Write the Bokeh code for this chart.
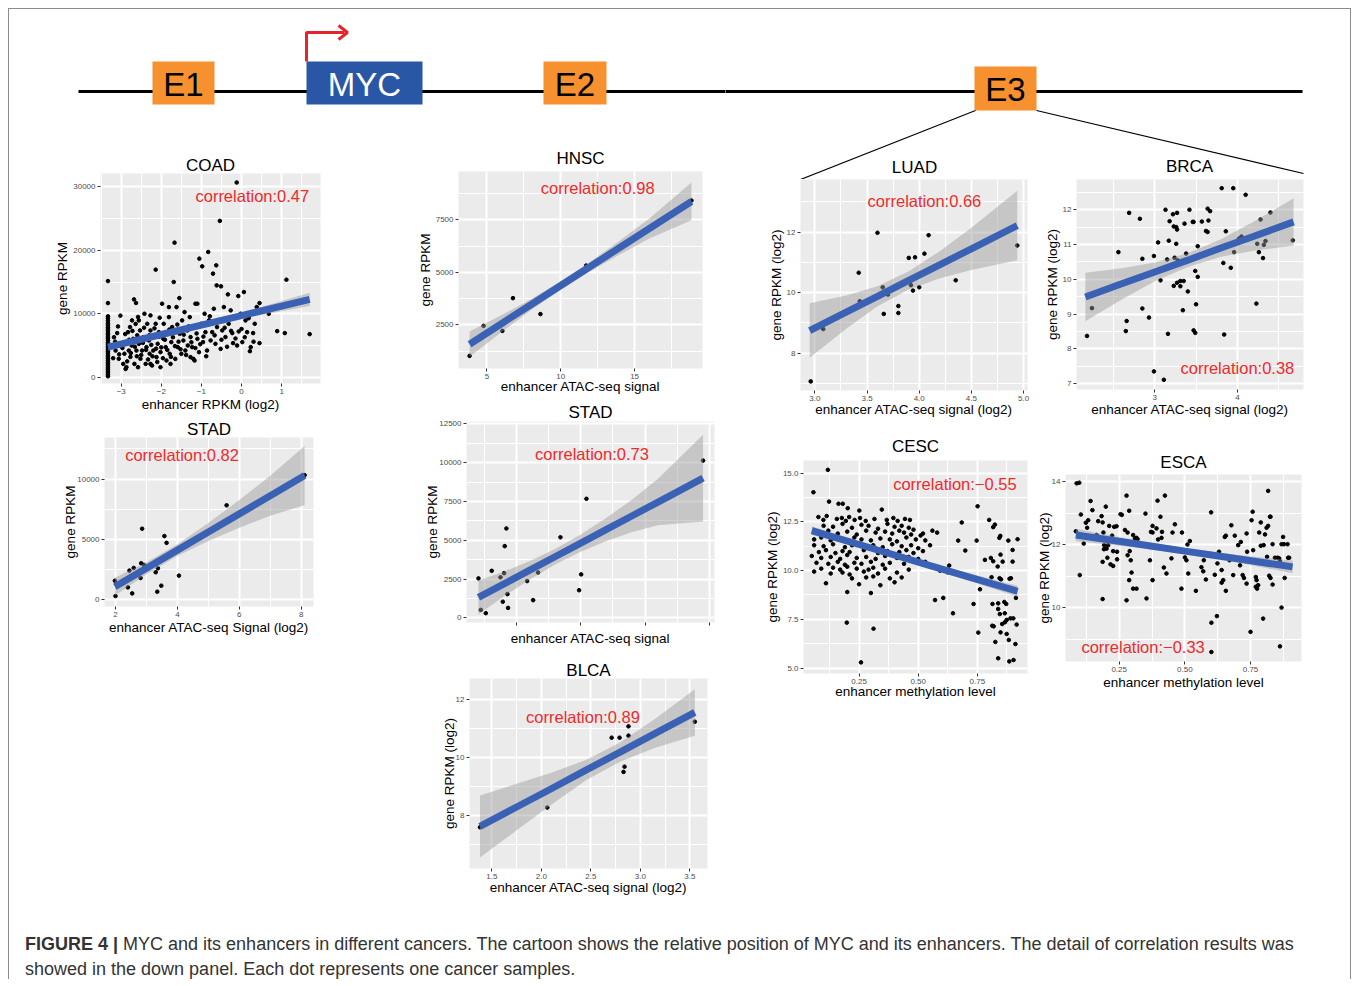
from bokeh.plotting import figure
from bokeh.models import Range1d, FixedTicker, Div
from bokeh.layouts import row, column
from bokeh.embed import file_html
from bokeh.resources import INLINE
from bokeh.core.properties import value

FONT = "Liberation Sans"
PANEL_BG = "#EBEBEB"
LINE_BLUE = "#3A61B3"
RED = "#EE2A2A"
ORANGE = "#F7902F"
MYC_BLUE = "#2A56A6"

# ======================= DATA =======================
# --- COAD: enhancer RPKM (log2) vs gene RPKM
coad_points = [
    (-3.33, 150), (-3.33, 420), (-3.33, 700), (-3.33, 980), (-3.33, 1250), (-3.33, 1500), (-3.33, 1800),
    (-3.33, 2100), (-3.33, 2350), (-3.33, 2650), (-3.33, 2950), (-3.33, 3200), (-3.33, 3450), (-3.33, 3800),
    (-3.33, 4050), (-3.33, 4300), (-3.33, 4650), (-3.33, 4900), (-3.33, 5200), (-3.33, 5450), (-3.33, 5800),
    (-3.33, 6100), (-3.33, 6350), (-3.33, 6700), (-3.33, 6950), (-3.33, 7300), (-3.33, 7600), (-3.33, 7850),
    (-3.33, 8200), (-3.33, 8500), (-3.33, 8900), (-3.33, 9300), (-3.33, 9600), (-3.33, 11680), (-3.33, 15150),
    (-3.18, 6300), (-3.14, 4200), (-3.10, 6950), (-3.06, 2900), (-3.02, 9700), (-3.0, 5260), (-2.95, 2100),
    (-2.92, 3700), (-2.89, 1300), (-2.87, 5500), (-2.83, 7100), (-2.81, 4200), (-2.78, 7900), (-2.77, 3200),
    (-2.74, 5000), (-2.70, 6050), (-2.68, 12260), (-2.67, 2100), (-2.64, 8400), (-2.62, 4200), (-2.60, 6600),
    (-2.63, 11700), (-2.58, 9500), (-2.56, 5260), (-2.53, 7370), (-2.52, 2900), (-2.48, 4200), (-2.45, 6300),
    (-2.42, 10000), (-2.39, 2100), (-2.37, 4740), (-2.35, 8420), (-2.31, 5800), (-2.29, 3700), (-2.27, 7370),
    (-2.23, 1840), (-2.20, 4200), (-2.19, 6300), (-2.14, 8420), (-2.14, 16950), (-2.12, 3160), (-2.09, 5260),
    (-2.06, 7100), (-2.04, 9370), (-2.02, 3950), (-1.98, 11580), (-1.95, 6050), (-1.94, 8420), (-1.89, 4740),
    (-1.87, 2630), (-1.84, 6840), (-1.81, 9470), (-1.79, 3680), (-1.75, 5530), (-1.73, 7900), (-1.69, 15000),
    (-1.67, 21200), (-1.65, 2890), (-1.62, 11050), (-1.59, 4740), (-1.55, 12470), (-1.54, 6840), (-1.50, 3680),
    (-1.48, 8950), (-1.45, 5790), (-1.42, 10260), (-1.40, 4210), (-1.35, 7370), (-1.34, 5000), (-1.29, 9470),
    (-1.27, 6320), (-1.23, 4740), (-1.20, 2890), (-1.19, 7900), (-1.15, 11580), (-1.10, 11580), (-1.10, 6050),
    (-1.06, 3950), (-1.05, 18680), (-1.0, 8420), (-0.98, 17470), (-0.96, 5530), (-0.92, 10000), (-0.90, 7100),
    (-0.86, 4210), (-0.83, 19740), (-0.81, 8950), (-0.77, 5790), (-0.73, 7100), (-0.71, 16320), (-0.69, 10790),
    (-0.65, 5260), (-0.63, 17630), (-0.62, 14470), (-0.61, 7900), (-0.54, 24630), (-0.52, 4470), (-0.51, 14320),
    (-0.48, 7370), (-0.44, 11050), (-0.40, 6320), (-0.34, 13050), (-0.32, 8420), (-0.27, 10530), (-0.23, 6950),
    (-0.21, 5370), (-0.17, 9470), (-0.12, 30680), (-0.11, 5000), (-0.08, 12790), (-0.07, 7210), (-0.02, 10000),
    (0.02, 5530), (0.06, 13420), (0.10, 8950), (0.14, 7100), (0.21, 4100), (0.23, 4740), (0.29, 6950),
    (0.33, 8420), (0.38, 11050), (0.45, 11680), (0.45, 5370), (0.68, 10000), (0.89, 7260), (1.08, 6950),
    (1.12, 15370), (1.70, 6790), (-2.87, 1580), (-2.58, 1580), (-2.27, 2100), (-2.02, 1580), (-1.77, 2100),
    (-1.27, 3160), (-1.17, 2630), (-2.56, 8950), (-2.73, 8950), (-2.27, 9740), (-1.81, 11050),
    (-3.2, 3000), (-3.15, 5600), (-3.08, 8000), (-3.05, 3600), (-2.97, 4600), (-2.9, 6800), (-2.85, 2500),
    (-2.8, 5900), (-2.76, 3800), (-2.72, 7300), (-2.66, 4800), (-2.61, 3300), (-2.55, 6000), (-2.5, 3500),
    (-2.46, 5400), (-2.43, 7800), (-2.38, 4300), (-2.33, 2800), (-2.3, 6600), (-2.25, 5100), (-2.22, 3300),
    (-2.17, 7700), (-2.13, 4500), (-2.1, 2400), (-2.05, 6400), (-2.0, 4700), (-1.96, 3000), (-1.91, 5900),
    (-1.85, 4300), (-1.8, 7500), (-1.76, 3200), (-1.71, 6300), (-1.66, 4900), (-1.6, 8300), (-1.57, 5600),
    (-1.52, 4400), (-1.44, 6700), (-1.38, 3500), (-1.32, 8000), (-1.25, 5500), (-1.15, 4600), (-1.12, 6900),
    (-1.03, 5200), (-0.95, 6400), (-0.88, 3300), (-0.79, 9600), (-0.67, 6600), (-0.58, 9000), (-0.5, 5900),
    (-0.42, 7800), (-0.36, 4800), (-0.26, 7300), (-0.15, 6100), (0.0, 7600), (0.08, 6300), (0.18, 9300), (0.3, 5600),
]
coad_fit_x = [-3.33, -2, -1, 0, 1, 1.7]
coad_fit_y = [4740, 6728, 8223, 9718, 11213, 12260]
coad_lo = [4190, 6428, 7943, 9268, 10413, 11210]
coad_hi = [5290, 7028, 8503, 10168, 12013, 13310]

# --- STAD (left): ATAC-seq signal (log2) vs gene RPKM
stadl_x = [8.11, 5.59, 2.86, 3.58, 3.65, 2.83, 2.92, 2.59, 2.45, 3.37, 3.30, 2.81, 4.05, 1.98, 2.40, 3.48, 3.35, 2.54, 2.0]
stadl_y = [10330, 7830, 5890, 5280, 4720, 3030, 2890, 2640, 2420, 2610, 2280, 1810, 2000, 1580, 1030, 1170, 670, 530, 310]
stadl_fit_x = [1.98, 3, 4, 5, 6, 7, 8.11]
stadl_fit_y = [1080, 2613, 4116, 5619, 7122, 8625, 10293]
stadl_lo = [330, 2113, 3636, 4869, 5972, 6975, 7843]
stadl_hi = [1830, 3113, 4596, 6369, 8272, 10275, 12743]

# --- HNSC
hnsc_x = [3.82, 4.77, 6.04, 6.76, 8.62, 11.72, 18.85]
hnsc_y = [1020, 2450, 2210, 3770, 3010, 5320, 8420]
hnsc_fit_x = [3.82, 6, 8, 10, 12, 14, 16, 18.85]
hnsc_fit_y = [1577, 2563, 3467, 4372, 5276, 6181, 7085, 8374]
hnsc_lo = [977, 2163, 3207, 4172, 5046, 5851, 6605, 7474]
hnsc_hi = [2177, 2963, 3727, 4572, 5506, 6511, 7565, 9274]

# --- STAD (middle)
stadm_x = [19.5, 10.44, 4.22, 4.09, 8.42, 2.05, 3.08, 4.04, 3.76, 6.68, 5.83, 10.03, 9.87, 4.30, 3.94, 6.30, 4.35, 2.23, 2.62]
stadm_y = [10130, 7670, 5760, 4620, 5190, 2540, 3030, 2880, 2610, 2920, 2370, 2800, 1780, 1530, 1040, 1140, 640, 510, 300]
stadm_fit_x = [2.05, 4, 6, 8, 10, 12, 14, 16, 19.5]
stadm_fit_y = [1314, 2173, 3054, 3935, 4816, 5697, 6578, 7459, 9001]
stadm_lo = [214, 1373, 2454, 3435, 4266, 4947, 5528, 5959, 6201]
stadm_hi = [2414, 2973, 3654, 4435, 5366, 6447, 7628, 8959, 11801]

# --- BLCA
blca_x = [1.38, 2.06, 2.71, 2.79, 2.88, 2.88, 2.84, 2.83, 3.55]
blca_y = [7.58, 8.26, 10.67, 10.67, 10.74, 11.06, 9.67, 9.49, 11.22]
blca_fit_x = [1.38, 1.75, 2.1, 2.45, 2.8, 3.15, 3.55]
blca_fit_y = [7.61, 8.28, 8.91, 9.55, 10.18, 10.82, 11.54]
blca_lo = [6.54, 7.48, 8.36, 9.20, 9.85, 10.32, 10.74]
blca_hi = [8.68, 9.08, 9.46, 9.90, 10.51, 11.32, 12.34]

# --- LUAD
luad_x = [2.96, 3.08, 3.43, 3.42, 3.60, 3.65, 3.70, 3.66, 3.80, 3.80, 3.90, 3.96, 3.92, 3.94, 4.00, 4.05, 4.09, 4.35, 4.94]
luad_y = [7.07, 8.80, 9.72, 10.66, 11.98, 10.18, 9.94, 9.30, 9.56, 9.33, 11.15, 11.17, 10.25, 10.07, 10.18, 11.29, 11.90, 10.41, 11.56]
luad_fit_x = [2.95, 3.3, 3.6, 3.9, 4.2, 4.5, 4.94]
luad_fit_y = [8.75, 9.36, 9.88, 10.41, 10.93, 11.45, 12.22]
luad_lo = [7.85, 8.81, 9.55, 10.11, 10.48, 10.75, 11.07]
luad_hi = [9.65, 9.91, 10.21, 10.71, 11.38, 12.15, 13.37]

# --- BRCA
brca_points = [
    (2.18, 8.37), (2.24, 9.17), (2.56, 10.78), (2.69, 11.91), (2.82, 11.74), (2.85, 10.59), (2.85, 9.16),
    (2.66, 8.80), (2.65, 8.51), (2.93, 8.90), (2.99, 10.67), (2.99, 7.35), (3.04, 11.06), (3.07, 9.97),
    (3.13, 12.00), (3.11, 7.11), (3.16, 8.43), (3.17, 11.11), (3.18, 11.67), (3.15, 10.57), (3.22, 11.87),
    (3.23, 11.52), (3.24, 10.62), (3.23, 9.81), (3.26, 11.50), (3.27, 11.43), (3.26, 11.02), (3.27, 11.91),
    (3.27, 9.90), (3.28, 10.54), (3.31, 9.80), (3.31, 9.95), (3.35, 9.95), (3.34, 9.11), (3.36, 11.60),
    (3.38, 10.74), (3.40, 9.65), (3.42, 12.00), (3.46, 11.65), (3.47, 11.65), (3.49, 10.24), (3.50, 9.28),
    (3.52, 10.07), (3.52, 10.95), (3.47, 8.53), (3.49, 8.46), (3.57, 11.66), (3.62, 11.39), (3.64, 11.36),
    (3.64, 12.03), (3.65, 11.69), (3.67, 11.96), (3.81, 12.62), (3.83, 10.47), (3.84, 8.41), (3.86, 11.38),
    (3.92, 10.33), (3.95, 12.62), (3.96, 10.78), (4.02, 11.17), (4.05, 11.23), (4.10, 12.43), (4.23, 9.30),
    (4.24, 11.02), (4.26, 10.78), (4.28, 11.72), (4.31, 10.61), (4.32, 10.99), (4.34, 11.10), (4.40, 11.92),
    (4.67, 11.12),
]
brca_fit_x = [2.16, 2.6, 3.0, 3.4, 3.8, 4.2, 4.68]
brca_fit_y = [9.49, 9.87, 10.21, 10.55, 10.90, 11.24, 11.65]
brca_lo = [8.79, 9.42, 9.94, 10.35, 10.65, 10.82, 10.97]
brca_hi = [10.19, 10.32, 10.48, 10.75, 11.15, 11.66, 12.33]

# --- CESC: methylation vs gene RPKM (log2)
cesc_x = [0.078, 0.099, 0.113, 0.156, 0.177, 0.194, 0.208, 0.231, 0.254, 0.278, 0.315, 0.367, 0.395, 0.413, 0.444, 0.465,
          0.10, 0.14, 0.18, 0.22, 0.26, 0.29, 0.33, 0.37, 0.40, 0.43, 0.46, 0.48,
          0.07, 0.12, 0.16, 0.20, 0.24, 0.28, 0.32, 0.36, 0.39, 0.42, 0.44, 0.47, 0.52, 0.56, 0.58,
          0.06, 0.09, 0.13, 0.17, 0.21, 0.23, 0.26, 0.30, 0.34, 0.38, 0.41, 0.45, 0.49, 0.51, 0.53,
          0.06, 0.10, 0.14, 0.19, 0.22, 0.25, 0.28, 0.31, 0.35, 0.39, 0.43, 0.47, 0.50, 0.55,
          0.08, 0.11, 0.15, 0.18, 0.21, 0.27, 0.33, 0.37, 0.42, 0.45, 0.48, 0.52,
          0.05, 0.09, 0.13, 0.17, 0.20, 0.24, 0.28, 0.32, 0.36, 0.41, 0.46, 0.50,
          0.07, 0.12, 0.16, 0.19, 0.23, 0.26, 0.30, 0.35, 0.38, 0.44, 0.53,
          0.09, 0.14, 0.17, 0.20, 0.24, 0.29, 0.31, 0.36, 0.46,
          0.06, 0.13, 0.18, 0.21, 0.27, 0.33, 0.41,
          0.22, 0.28, 0.31, 0.38, 0.43,
          0.11, 0.25, 0.34, 0.40,
          0.20, 0.30,
          0.057, 0.118, 0.123, 0.163, 0.181, 0.202, 0.251, 0.346, 0.198, 0.311, 0.258, 0.751, 0.684, 0.782,
          0.571, 0.606, 0.647, 0.734, 0.754, 0.761, 0.669, 0.747, 0.699, 0.631, 0.624, 0.592,
          0.800, 0.817, 0.824, 0.847, 0.843, 0.881, 0.920, 0.899, 0.807, 0.817, 0.836, 0.848, 0.857, 0.899,
          0.844, 0.850, 0.892, 0.886, 0.810, 0.814, 0.838, 0.864, 0.872, 0.913, 0.838, 0.845, 0.866, 0.890,
          0.902, 0.874, 0.867, 0.855, 0.916, 0.813, 0.819, 0.848, 0.874, 0.826, 0.883, 0.911, 0.838, 0.885, 0.903]
cesc_y = [12.75, 12.6, 12.8, 12.65, 12.7, 12.55, 12.75, 12.6, 12.7, 12.55, 12.65, 12.6, 12.7, 12.55, 12.65, 12.6,
          12.3, 12.25, 12.4, 12.2, 12.35, 12.3, 12.15, 12.4, 12.25, 12.3, 12.2, 12.1,
          11.95, 12.05, 11.9, 12.0, 11.85, 12.05, 11.95, 12.0, 11.9, 12.05, 11.95, 11.85, 11.9, 12.05, 11.95,
          11.6, 11.7, 11.55, 11.65, 11.5, 11.7, 11.6, 11.55, 11.65, 11.6, 11.5, 11.7, 11.6, 11.8, 11.55,
          11.3, 11.25, 11.35, 11.2, 11.3, 11.4, 11.25, 11.3, 11.2, 11.35, 11.25, 11.3, 11.15, 11.3,
          10.95, 11.05, 10.9, 11.0, 10.95, 11.05, 10.9, 11.0, 10.95, 11.05, 10.9, 11.0,
          10.75, 10.65, 10.7, 10.6, 10.8, 10.65, 10.7, 10.6, 10.75, 10.65, 10.7, 10.6,
          10.4, 10.35, 10.45, 10.3, 10.4, 10.35, 10.45, 10.3, 10.4, 10.35, 10.45,
          10.1, 10.15, 10.05, 10.2, 10.1, 10.05, 10.15, 10.1, 10.05,
          9.95, 9.85, 9.9, 9.8, 9.95, 9.85, 9.9,
          9.6, 9.65, 9.7, 9.6, 9.65,
          9.35, 9.3, 9.25, 9.4,
          8.9, 8.85,
          14.02, 15.17, 13.54, 13.43, 13.43, 13.20, 13.08, 13.13, 7.33, 7.02, 5.29, 13.30, 12.47, 10.55,
          8.49, 8.60, 7.81, 8.29, 6.82, 9.04, 11.54, 11.54, 11.03, 10.26, 9.91, 10.0,
          12.60, 12.23, 12.36, 11.78, 11.68, 11.54, 11.61, 11.06, 10.65, 10.48, 10.21, 10.82, 10.46, 10.46,
          9.61, 9.55, 9.61, 9.58, 9.66, 8.29, 8.32, 8.39, 8.29, 8.60, 8.03, 7.77, 7.81, 7.55,
          7.55, 7.47, 7.35, 7.26, 7.23, 7.17, 7.14, 6.83, 6.75, 6.34, 6.44, 6.23, 5.50, 5.34, 5.41]
cesc_fit_x = [0.05, 0.3, 0.55, 0.92]
cesc_fit_y = [12.05, 11.16, 10.26, 8.94]
cesc_lo = [11.83, 11.04, 10.14, 8.66]
cesc_hi = [12.27, 11.28, 10.38, 9.22]

# --- ESCA
esca_points = [
    (0.088, 13.95), (0.098, 13.97), (0.141, 13.39), (0.104, 12.96), (0.199, 13.21), (0.278, 13.56), (0.288, 13.08),
    (0.396, 13.40), (0.424, 13.56), (0.350, 12.99), (0.600, 13.03), (0.758, 13.05), (0.085, 12.43), (0.100, 11.04),
    (0.115, 12.04), (0.123, 12.70), (0.128, 12.54), (0.132, 12.78), (0.148, 13.10), (0.164, 12.31), (0.170, 12.75),
    (0.183, 12.91), (0.187, 12.71), (0.190, 12.39), (0.192, 11.86), (0.193, 11.99), (0.187, 11.46), (0.187, 10.28),
    (0.202, 11.88), (0.205, 11.59), (0.208, 11.99), (0.212, 12.60), (0.217, 11.38), (0.227, 11.33), (0.223, 12.29),
    (0.231, 12.57), (0.240, 12.59), (0.242, 11.54), (0.227, 11.80), (0.242, 11.78), (0.255, 12.97), (0.260, 12.95),
    (0.272, 12.47), (0.282, 12.39), (0.278, 10.24), (0.288, 10.88), (0.282, 11.67), (0.290, 11.80), (0.294, 11.51),
    (0.297, 11.12), (0.303, 12.31), (0.316, 12.22), (0.310, 12.20), (0.303, 10.61), (0.316, 10.61), (0.320, 12.18),
    (0.354, 10.30), (0.367, 11.51), (0.371, 12.41), (0.377, 12.39), (0.377, 12.60), (0.377, 10.88), (0.392, 12.52),
    (0.398, 12.17), (0.407, 12.89), (0.411, 12.22), (0.413, 12.41), (0.420, 11.28), (0.430, 11.09), (0.449, 11.57),
    (0.453, 12.39), (0.462, 12.65), (0.489, 12.39), (0.487, 10.61), (0.500, 11.60), (0.506, 11.51), (0.510, 12.01),
    (0.513, 11.09), (0.519, 12.12), (0.542, 10.54), (0.563, 11.29), (0.570, 11.16), (0.572, 11.51), (0.580, 10.90),
    (0.601, 9.53), (0.601, 8.60), (0.614, 11.05), (0.622, 9.74), (0.624, 11.41), (0.630, 11.78), (0.640, 10.80),
    (0.640, 11.20), (0.646, 10.88), (0.652, 12.25), (0.656, 12.29), (0.656, 10.54), (0.670, 11.51), (0.677, 12.62),
    (0.684, 11.04), (0.690, 12.29), (0.703, 11.99), (0.710, 11.35), (0.713, 12.09), (0.720, 11.04), (0.725, 10.95),
    (0.735, 10.77), (0.735, 12.36), (0.737, 11.78), (0.750, 9.24), (0.754, 12.78), (0.760, 11.83), (0.770, 10.98),
    (0.773, 10.88), (0.770, 10.67), (0.775, 10.61), (0.779, 10.72), (0.783, 12.39), (0.789, 11.97), (0.789, 12.71),
    (0.798, 9.66), (0.800, 11.99), (0.805, 12.33), (0.811, 12.54), (0.817, 12.60), (0.824, 12.89), (0.826, 12.89),
    (0.817, 13.71), (0.813, 11.62), (0.821, 11.02), (0.826, 10.95), (0.834, 10.74), (0.834, 12.02), (0.843, 11.59),
    (0.853, 11.59), (0.859, 11.57), (0.862, 11.48), (0.868, 10.01), (0.862, 8.78), (0.868, 12.02), (0.874, 12.25),
    (0.877, 12.02), (0.880, 10.95), (0.891, 12.02), (0.893, 11.59), (0.897, 11.59),
]
esca_fit_x = [0.085, 0.3, 0.5, 0.7, 0.91]
esca_fit_y = [12.31, 12.05, 11.80, 11.56, 11.30]
esca_lo = [12.11, 11.93, 11.70, 11.44, 11.10]
esca_hi = [12.51, 12.17, 11.90, 11.68, 11.50]

# --- correlation labels
corr_labels = {
    "COAD": "correlation:0.47", "STAD_L": "correlation:0.82", "HNSC": "correlation:0.98",
    "STAD_M": "correlation:0.73", "BLCA": "correlation:0.89", "LUAD": "correlation:0.66",
    "BRCA": "correlation:0.38", "CESC": "correlation:\u22120.55", "ESCA": "correlation:\u22120.33",
}

# --- cartoon elements (schematic positions along the locus, page pixels)
elem_names = ["E1", "MYC", "E2", "E3"]
elem_left = [152, 306, 543, 974]
elem_right = [214, 422, 606, 1036]
elem_top = [61, 61, 61, 66]
elem_bottom = [104, 104, 104, 110]
elem_fill = [ORANGE, MYC_BLUE, ORANGE, ORANGE]
elem_text_color = ["black", "white", "black", "black"]

CAPTION = ("<b>FIGURE 4 |</b> MYC and its enhancers in different cancers. The cartoon shows the relative position of "
           "MYC and its enhancers. The detail of correlation results was<br>showed in the down panel. "
           "Each dot represents one cancer samples.")


def split(points):
    return [p[0] for p in points], [p[1] for p in points]


def okey(t):
    return int(t) if float(t).is_integer() else t


def panel(title, xr, yr, xt, xl, xm, yt, yl, ym, xlab, ylab, px, py, fx, fy, flo, fhi, corr, cpos, geom,
          title_standoff=0, xlab_standoff=0, ylab_standoff=0, show_title=True):
    left, fw, right, top, fh, bottom = geom
    p = figure(width=left + fw + right, height=top + fh + bottom,
               min_border_left=left, min_border_right=right,
               min_border_top=top, min_border_bottom=bottom,
               x_range=Range1d(*xr), y_range=Range1d(*yr),
               output_backend="svg", toolbar_location=None, align="start",
               background_fill_color=PANEL_BG, border_fill_color="white", outline_line_color=None)
    if show_title:
        p.title.text = title
        p.title.align = "center"
        p.title.text_font = FONT
        p.title.text_font_size = "17px"
        p.title.text_font_style = "normal"
        p.title.text_color = "black"
        p.title.standoff = title_standoff
    xtk = FixedTicker(ticks=xt, minor_ticks=xm)
    ytk = FixedTicker(ticks=yt, minor_ticks=ym)
    p.xaxis.ticker = xtk
    p.yaxis.ticker = ytk
    p.xgrid.ticker = xtk
    p.ygrid.ticker = ytk
    p.xaxis.major_label_overrides = {okey(t): l for t, l in zip(xt, xl)}
    p.yaxis.major_label_overrides = {okey(t): l for t, l in zip(yt, yl)}
    for g in (p.xgrid, p.ygrid):
        g.grid_line_color = "white"
        g.grid_line_width = 2
        g.minor_grid_line_color = "white"
        g.minor_grid_line_width = 1
    for ax in (p.xaxis, p.yaxis):
        ax.axis_line_color = None
        ax.major_tick_line_color = "#333333"
        ax.major_tick_in = 0
        ax.major_tick_out = 3
        ax.minor_tick_line_color = None
        ax.major_label_text_font = FONT
        ax.major_label_text_font_size = "8px"
        ax.major_label_text_color = "#4D4D4D"
        ax.major_label_standoff = 1
        ax.axis_label_text_font = FONT
        ax.axis_label_text_font_size = "13.5px"
        ax.axis_label_text_font_style = "normal"
        ax.axis_label_text_color = "black"
        ax.axis_label_standoff = 0
    p.xaxis.axis_label = xlab
    p.yaxis.axis_label = ylab
    p.xaxis.axis_label_standoff = xlab_standoff
    p.yaxis.axis_label_standoff = ylab_standoff
    p.scatter(px, py, size=3.6, color="black")
    p.varea(x=fx, y1=flo, y2=fhi, fill_color="#999999", fill_alpha=0.45)
    p.line(fx, fy, line_color=LINE_BLUE, line_width=7)
    p.text(x=[cpos[0]], y=[cpos[1]], text=[corr], text_color=RED, text_font=value(FONT),
           text_font_size="16.5px", text_align="center", text_baseline="middle")
    return p


# geometry: (left border, frame width, right border, top border, frame height, bottom border)
cx, cy = split(coad_points)
coad = panel("COAD", (-3.516, 1.97), (-990, 32100),
             [-3, -2, -1, 0, 1], ["\u22123", "\u22122", "\u22121", "0", "1"], [-3.5, -2.5, -1.5, -0.5, 0.5, 1.5],
             [0, 10000, 20000, 30000], ["0", "10000", "20000", "30000"], [5000, 15000, 25000],
             "enhancer RPKM (log2)", "gene RPKM", cx, cy, coad_fit_x, coad_fit_y, coad_lo, coad_hi,
             corr_labels["COAD"], (0.27, 28600), (91, 220, 10, 32, 210, 32), title_standoff=-2)

stadl = panel("STAD", (1.645, 8.397), (-555, 13450),
              [2, 4, 6, 8], ["2", "4", "6", "8"], [3, 5, 7],
              [0, 5000, 10000], ["0", "5000", "10000"], [2500, 7500, 12500],
              "enhancer ATAC-seq Signal (log2)", "gene RPKM", stadl_x, stadl_y,
              stadl_fit_x, stadl_fit_y, stadl_lo, stadl_hi,
              corr_labels["STAD_L"], (4.15, 12000), (95, 209, 17, 22, 169, 44),
              title_standoff=-2, ylab_standoff=-4)

hnsc = panel("HNSC", (3.07, 19.6), (419, 9800),
             [5, 10, 15], ["5", "10", "15"], [7.5, 12.5, 17.5],
             [2500, 5000, 7500], ["2500", "5000", "7500"], [1250, 3750, 6250, 8750],
             "enhancer ATAC-seq signal", "gene RPKM", hnsc_x, hnsc_y,
             hnsc_fit_x, hnsc_fit_y, hnsc_lo, hnsc_hi,
             corr_labels["HNSC"], (12.5, 9010), (128, 244, 23, 30, 197, 32), title_standoff=8,
             xlab_standoff=-3)

stadm = panel("STAD", (1.12, 20.39), (-300, 12650),
              [5, 10, 15, 20], ["", "", "", ""], [2.5, 7.5, 12.5, 17.5],
              [0, 2500, 5000, 7500, 10000, 12500], ["0", "2500", "5000", "7500", "10000", "12500"],
              [1250, 3750, 6250, 8750, 11250],
              "enhancer ATAC-seq signal", "gene RPKM", stadm_x, stadm_y,
              stadm_fit_x, stadm_fit_y, stadm_lo, stadm_hi,
              corr_labels["STAD_M"], (10.87, 10580), (136, 248, 11, 21, 201, 28), xlab_standoff=4,
              ylab_standoff=-4)

blca = panel("BLCA", (1.274, 3.678), (6.16, 12.71),
             [1.5, 2.0, 2.5, 3.0, 3.5], ["1.5", "2.0", "2.5", "3.0", "3.5"], [1.75, 2.25, 2.75, 3.25],
             [8, 10, 12], ["8", "10", "12"], [7, 9, 11],
             "enhancer ATAC-seq signal (log2)", "gene RPKM (log2)", blca_x, blca_y,
             blca_fit_x, blca_fit_y, blca_lo, blca_hi,
             corr_labels["BLCA"], (2.42, 11.37), (139, 238, 18, 28, 190, 32), title_standoff=-3,
             xlab_standoff=-2, ylab_standoff=-4)

luad = panel("LUAD", (2.862, 5.038), (6.77, 13.74),
             [3.0, 3.5, 4.0, 4.5, 5.0], ["3.0", "3.5", "4.0", "4.5", "5.0"], [3.25, 3.75, 4.25, 4.75],
             [8, 10, 12], ["8", "10", "12"], [7, 9, 11, 13],
             "enhancer ATAC-seq signal (log2)", "gene RPKM (log2)", luad_x, luad_y,
             luad_fit_x, luad_fit_y, luad_lo, luad_hi,
             corr_labels["LUAD"], (4.05, 13.02), (75, 227, 3, 0, 211, 35), show_title=False,
             xlab_standoff=-2)

bx, by = split(brca_points)
brca = panel("BRCA", (2.053, 4.80), (6.83, 12.87),
             [3, 4], ["3", "4"], [2.5, 3.5, 4.5],
             [7, 8, 9, 10, 11, 12], ["7", "8", "9", "10", "11", "12"], [7.5, 8.5, 9.5, 10.5, 11.5, 12.5],
             "enhancer ATAC-seq signal (log2)", "gene RPKM (log2)", bx, by,
             brca_fit_x, brca_fit_y, brca_lo, brca_hi,
             corr_labels["BRCA"], (4.0, 7.44), (46, 227, 47, 0, 210, 36), show_title=False,
             xlab_standoff=-1)

cesc = panel("CESC", (0.015, 0.962), (4.72, 15.65),
             [0.25, 0.5, 0.75], ["0.25", "0.50", "0.75"], [0.125, 0.375, 0.625, 0.875],
             [5, 7.5, 10, 12.5, 15], ["5.0", "7.5", "10.0", "12.5", "15.0"], [6.25, 8.75, 11.25, 13.75],
             "enhancer methylation level", "gene RPKM (log2)", cesc_x, cesc_y,
             cesc_fit_x, cesc_fit_y, cesc_lo, cesc_hi,
             corr_labels["CESC"], (0.655, 14.42), (78, 224, 3, 35, 213, 32), title_standoff=9,
             xlab_standoff=-3)

ex, ey = split(esca_points)
esca = panel("ESCA", (0.0456, 0.944), (8.30, 14.23),
             [0.25, 0.5, 0.75], ["0.25", "0.50", "0.75"], [0.125, 0.375, 0.625, 0.875],
             [10, 12, 14], ["10", "12", "14"], [9, 11, 13],
             "enhancer methylation level", "gene RPKM (log2)", ex, ey,
             esca_fit_x, esca_fit_y, esca_lo, esca_hi,
             corr_labels["ESCA"], (0.341, 8.75), (35, 236, 49, 49, 187, 39), title_standoff=6,
             ylab_standoff=-3)


def cartoon(x0, x1, y_bottom, width, height, idx):
    c = figure(width=width, height=height, x_range=Range1d(x0, x1), y_range=Range1d(y_bottom, 9),
               x_axis_type=None, y_axis_type=None, min_border=0, output_backend="svg",
               toolbar_location=None, outline_line_color=None, align="start")
    c.segment(x0=[78], y0=[91], x1=[1302], y1=[91], line_color="black", line_width=3)
    c.quad(left=[elem_left[i] for i in idx], right=[elem_right[i] for i in idx],
           top=[elem_top[i] for i in idx], bottom=[elem_bottom[i] for i in idx],
           fill_color=[elem_fill[i] for i in idx], line_color=None)
    c.text(x=[(elem_left[i] + elem_right[i]) / 2 for i in idx],
           y=[(elem_top[i] + elem_bottom[i]) / 2 + 1 for i in idx],
           text=[elem_names[i] for i in idx], text_color=[elem_text_color[i] for i in idx],
           text_font=value(FONT), text_font_size="33px", text_align="center", text_baseline="middle")
    return c


cl = cartoon(9, 725, 141, 716, 132, [0, 1, 2])
cl.line([306, 306, 344], [61, 32, 32], line_color="#E3262B", line_width=3)
cl.line([338, 347, 338], [25, 32, 39], line_color="#E3262B", line_width=3)

cr = cartoon(725, 1350, 179, 625, 170, [3])
cr.segment(x0=[975, 1036], y0=[110, 110], x1=[800, 1303], y1=[179, 173], line_color="black", line_width=1.2)
cr.text(x=[914, 1189], y=[167, 166], text=["LUAD", "BRCA"], text_color="black", text_font=value(FONT),
        text_font_size="17px", text_align="center", text_baseline="middle")

# each plot wrapped in its own row so that frames are not force-aligned within a column
col1 = column(row(coad), row(stadl), align="start")
col2 = column(row(hnsc), row(stadm), row(blca), align="start")
col3 = column(row(luad), row(cesc), align="start")
col4 = column(row(brca), row(esca), align="start")
left_block = column(cl, row(col1, col2, align="start"), align="start")
right_block = column(cr, row(col3, col4, align="start"), align="start")

cap = Div(text=('<div style="font-family:\'Liberation Sans\',Arial,sans-serif;font-size:18px;line-height:25px;'
                'color:#333333;padding:32px 0 0 16px;white-space:nowrap;">' + CAPTION + '</div>'),
          width=1341, height=79, margin=(0, 0, 0, 0), align="start")

root = column(row(left_block, right_block, align="start"), cap, margin=(8, 0, 0, 8),
              styles={"border-top": "1px solid #8c8c8c", "border-left": "1px solid #8c8c8c",
                      "border-right": "1px solid #8c8c8c"})

open("out.html", "w").write(file_html(root, INLINE))
